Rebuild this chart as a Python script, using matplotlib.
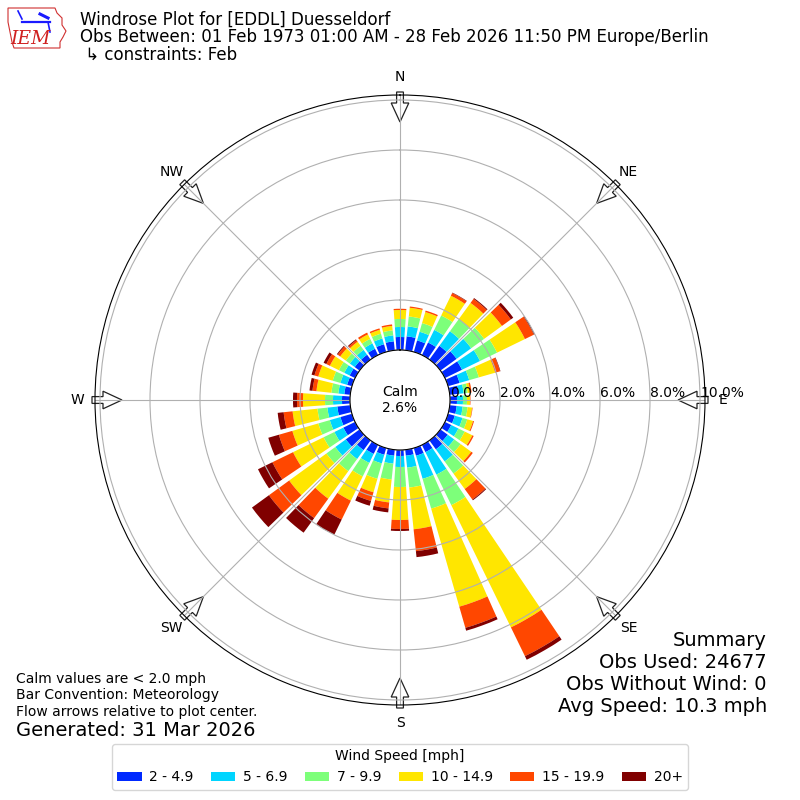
import numpy as np
import matplotlib
matplotlib.use("Agg")
import matplotlib.pyplot as plt
from matplotlib.patches import Polygon, Patch

# ---------------- data ----------------
directions = np.arange(0, 360, 10)  # degrees, bin centres
speed_labels = ["2 - 4.9", "5 - 6.9", "7 - 9.9", "10 - 14.9", "15 - 19.9", "20+"]

# percent of observations per direction bin for each speed class
pct_2_5 = [0.52, 0.56, 0.48, 0.56, 0.68, 0.80, 0.76, 0.48, 0.36, 0.28, 0.28, 0.28,
           0.28, 0.36, 0.44, 0.32, 0.32, 0.24, 0.24, 0.24, 0.28, 0.40, 0.48, 0.68,
           0.52, 0.48, 0.52, 0.32, 0.24, 0.20, 0.24, 0.24, 0.24, 0.28, 0.32, 0.36]
pct_5_7 = [0.40, 0.40, 0.36, 0.56, 0.72, 0.72, 0.80, 0.40, 0.20, 0.24, 0.24, 0.32,
           0.32, 0.32, 0.60, 1.00, 0.96, 0.48, 0.44, 0.32, 0.36, 0.40, 0.44, 0.52,
           0.40, 0.44, 0.40, 0.36, 0.24, 0.28, 0.24, 0.24, 0.24, 0.24, 0.24, 0.24]
pct_7_10 = [0.32, 0.40, 0.36, 0.64, 0.60, 0.64, 0.76, 0.40, 0.16, 0.16, 0.20, 0.20,
            0.28, 0.32, 0.60, 1.36, 1.24, 0.80, 0.80, 0.64, 0.64, 0.60, 0.60, 0.44,
            0.48, 0.48, 0.40, 0.32, 0.28, 0.32, 0.24, 0.20, 0.20, 0.20, 0.20, 0.20]
pct_10_15 = [0.36, 0.35, 0.46, 0.88, 0.80, 0.88, 1.24, 0.68, 0.10, 0.12, 0.18, 0.24,
             0.34, 0.52, 0.76, 5.44, 4.08, 1.68, 1.32, 0.92, 0.56, 1.08, 1.36, 1.84,
             1.36, 1.08, 1.00, 0.88, 0.60, 0.60, 0.40, 0.28, 0.20, 0.20, 0.16, 0.18]
pct_15_20 = [0.05, 0.05, 0.06, 0.12, 0.20, 0.44, 0.40, 0.20, 0.06, 0.02, 0.02, 0.04,
             0.06, 0.08, 0.52, 1.28, 0.88, 0.88, 0.36, 0.24, 0.36, 0.84, 0.96, 1.00,
             0.92, 0.56, 0.36, 0.24, 0.16, 0.16, 0.16, 0.12, 0.08, 0.08, 0.06, 0.06]
pct_20p = [0.00, 0.00, 0.00, 0.02, 0.04, 0.12, 0.04, 0.02, 0.00, 0.00, 0.00, 0.00,
           0.00, 0.00, 0.04, 0.16, 0.12, 0.24, 0.08, 0.16, 0.20, 0.68, 0.72, 0.84,
           0.64, 0.44, 0.24, 0.16, 0.12, 0.12, 0.12, 0.04, 0.04, 0.00, 0.00, 0.00]
series = [pct_2_5, pct_5_7, pct_7_10, pct_10_15, pct_15_20, pct_20p]

calm_pct = 2.6
rticks = [0, 2, 4, 6, 8, 10]
compass = ["N", "NE", "E", "SE", "S", "SW", "W", "NW"]
compass_deg = [0, 45, 90, 135, 180, 225, 270, 315]

title_lines = ["Windrose Plot for [EDDL] Duesseldorf",
               "Obs Between: 01 Feb 1973 01:00 AM - 28 Feb 2026 11:50 PM Europe/Berlin",
               " \u21b3 constraints: Feb"]
notes = ["Calm values are < 2.0 mph", "Bar Convention: Meteorology",
         "Flow arrows relative to plot center."]
generated = "Generated: 31 Mar 2026"
summary = ["Summary", "Obs Used: 24677", "Obs Without Wind: 0", "Avg Speed: 10.3 mph"]

# ---------------- figure ----------------
W = H = 800
fig = plt.figure(figsize=(8, 8), dpi=100)
cx, cy = 400, 400
R = 305  # axes radius in px
ax = fig.add_axes([(cx - R) / W, (H - cy - R) / H, 2 * R / W, 2 * R / H],
                  projection="polar")
ax.set_theta_zero_location("N")
ax.set_theta_direction(-1)
ax.set_rorigin(-2)
ax.set_ylim(0, 10.2)

cmap = plt.get_cmap("jet")
colors = [cmap((i + 1) / 6) for i in range(6)]

theta = np.deg2rad(directions)
width = np.deg2rad(10) * 0.8
bottom = np.zeros(len(directions))
for vals, col, lab in zip(series, colors, speed_labels):
    v = np.asarray(vals)
    ax.bar(theta, v, width=width, bottom=bottom, color=col, label=lab,
           linewidth=0, zorder=1)
    bottom += v

ax.set_thetagrids(compass_deg, labels=[""] * 8)
ax.set_rgrids(rticks, labels=[f"{t:.1f}%" for t in rticks], angle=90)
ax.tick_params(axis="y", labelsize=10)
ax.grid(True, color="#b0b0b0", linewidth=0.8)

ax.text(0, -2, f"Calm\n{calm_pct:.1f}%", ha="center", va="center", fontsize=10)

# flow arrows (pixel geometry, decorations)
def px(x, y):
    return (x / W, 1 - y / H)

for a, name in zip(compass_deg, compass):
    ar = np.deg2rad(a)
    u = np.array([np.sin(ar), -np.cos(ar)])
    v = np.array([np.cos(ar), np.sin(ar)])
    c = np.array([cx, cy])
    r_tail, r_neck, r_tip = 308, 297, 278
    sw, hw = 3.4, 8.8
    pts = [c + r_tail * u + sw * v, c + r_neck * u + sw * v, c + r_neck * u + hw * v,
           c + r_tip * u, c + r_neck * u - hw * v, c + r_neck * u - sw * v,
           c + r_tail * u - sw * v]
    pts = [px(*p) for p in pts]
    ax.add_patch(Polygon(pts, closed=True, transform=fig.transFigure, clip_on=False,
                         facecolor="white", edgecolor="#222222", linewidth=0.9,
                         zorder=1.2))
    lx, ly = cx + 323 * np.sin(ar), cy - 323 * np.cos(ar)
    fig.text(lx / W, 1 - ly / H, name, ha="center", va="center", fontsize=10)

# titles
for i, t in enumerate(title_lines):
    fig.text(80 / W, 1 - (20 + 17.5 * i) / H, t, ha="left", va="center", fontsize=12)

for i, t in enumerate(notes):
    fig.text(16 / W, 1 - (679 + 16.5 * i) / H, t, ha="left", va="center", fontsize=10)
fig.text(16 / W, 1 - 730 / H, generated, ha="left", va="center", fontsize=14)
for t, yy in zip(summary, [640, 662.5, 684.5, 706]):
    fig.text(767 / W, 1 - yy / H, t, ha="right", va="center", fontsize=14)

# logo (simplified)
lg = fig.add_axes([0, 1 - 55 / H, 80 / W, 55 / H])
lg.set_xlim(0, 80)
lg.set_ylim(55, 0)
lg.axis("off")
iowa = [(8, 8), (55, 8), (57, 13), (62, 18), (62, 25), (66, 31), (63, 37), (60, 42),
        (60, 48), (14, 48), (12, 42), (10, 32), (8, 22)]
lg.add_patch(Polygon(iowa, closed=True, facecolor="white", edgecolor="#d03030",
                     linewidth=0.8))
lg.plot([22, 50], [22, 22], color="#1a1aff", lw=1.6)
lg.plot([18, 22], [11, 19], color="#1a1aff", lw=1.2)
lg.plot([40, 48], [14, 18], color="#1a1aff", lw=2.2)
lg.plot([48, 50], [22, 32], color="#1a1aff", lw=1.2)
lg.text(30, 39, "IEM", color="#d02020", fontsize=13.5, fontstyle="italic",
        family="DejaVu Serif", ha="center", va="center")

# legend
handles = [Patch(facecolor=c, edgecolor="none") for c in colors]
fig.legend(handles, speed_labels, loc="lower center", ncol=6,
           bbox_to_anchor=(0.5, 0.004), title="Wind Speed [mph]", fontsize=10,
           title_fontsize=10, handlelength=1.75, handletextpad=0.55,
           columnspacing=1.25)

fig.savefig("out.png", dpi=100)
